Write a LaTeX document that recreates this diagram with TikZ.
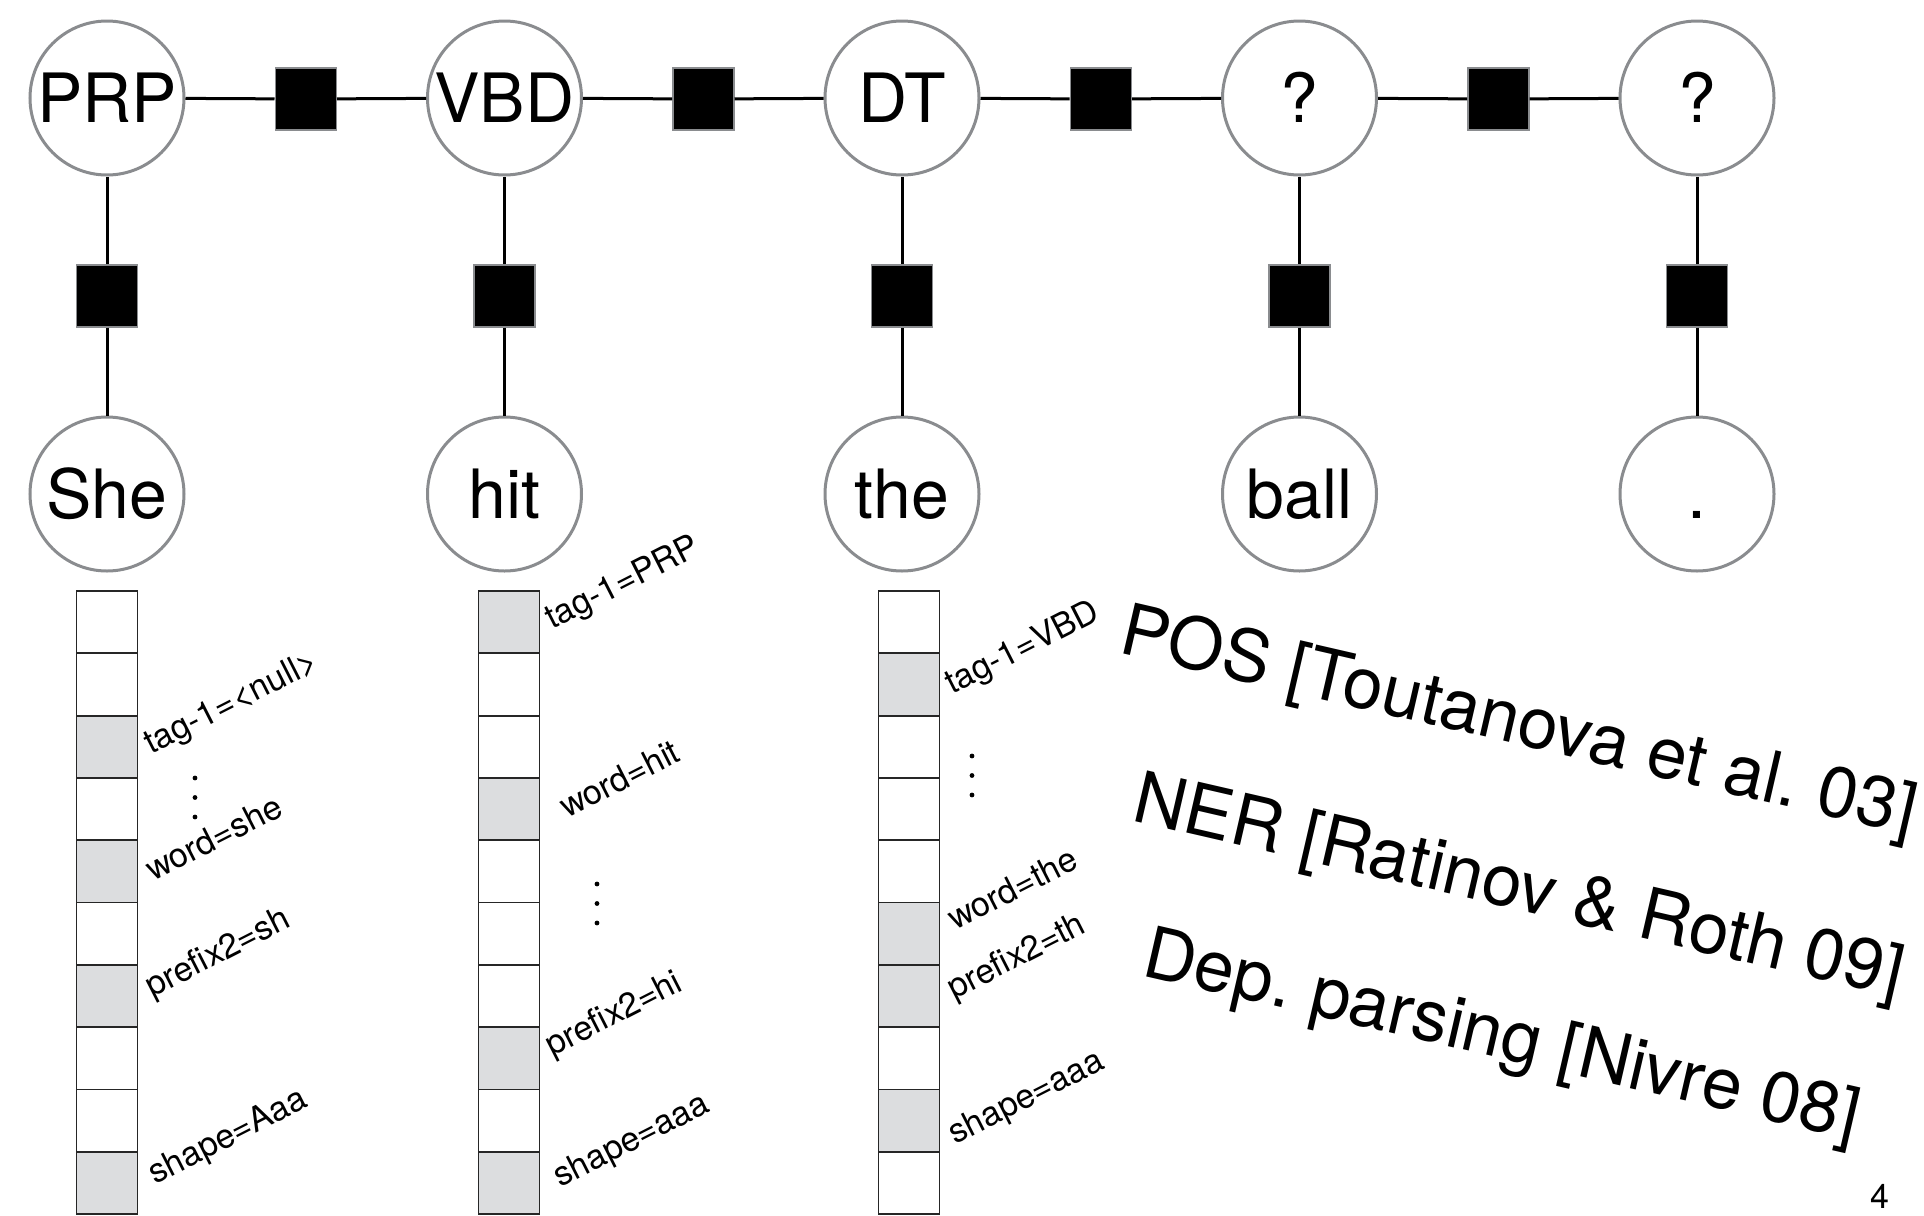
\documentclass[tikz,border=0pt]{standalone}
\usepackage{fontspec}
\setmainfont{TeX Gyre Heros}
\definecolor{cgray}{RGB}{138,140,143}
\definecolor{cellgray}{RGB}{220,221,223}
\begin{document}
\begin{tikzpicture}[x=0.5pt,y=-0.5pt,
  var/.style={circle, draw=cgray, line width=1.5pt, fill=white, minimum size=77pt, inner sep=0pt,
    font=\fontsize{34}{40}\selectfont, text height=24pt, text depth=0pt},
  fac/.style={rectangle, fill=black, draw=cgray, line width=0.75pt, minimum width=30.5pt, minimum height=31pt, inner sep=0pt},
  conn/.style={line width=1.5pt},
  cellbox/.style={draw=black!85, line width=0.9pt},
  feat/.style={font=\fontsize{17}{20}\selectfont, rotate=27, anchor=base west, inner sep=0pt},
  big/.style={font=\fontsize{35.8}{42}\selectfont, rotate=-13, anchor=base west, inner sep=0pt}]
\useasboundingbox (0,0) rectangle (1924,1216);

% variables (tags) and words
\foreach \n/\x/\t in {1/107/PRP, 2/504.5/VBD, 3/902/DT, 4/1299.5/?, 5/1697/?}
  \node[var] (t\n) at (\x,98) {\t};
\foreach \n/\x/\w in {1/107/She, 2/504.5/hit, 3/902/the, 4/1299.5/ball, 5/1697/.}
  \node[var] (w\n) at (\x,494) {\w};

% vertical factors
\foreach \n/\x in {1/107, 2/504.5, 3/902, 4/1299.5, 5/1697}{
  \node[fac] (u\n) at (\x,296) {};
  \draw[conn] (t\n) -- (u\n) -- (w\n);
}

% horizontal factors
\foreach \n/\m/\x in {1/2/305.75, 2/3/703.25, 3/4/1100.75, 4/5/1498.25}{
  \node[fac] (h\n) at (\x,99) {};
  \draw[conn] (t\n) -- (h\n) -- (t\m);
}

% feature columns
\foreach \cx/\i in {107/2,107/4,107/6,107/9, 509/0,509/3,509/7,509/9, 909/1,909/5,909/6,909/8}
  \fill[cellgray] (\cx-30.5,591+\i*62.3) rectangle ++(61,62.3);
\foreach \cx in {107,509,909}
  \foreach \i in {0,...,9}
    \draw[cellbox] (\cx-30.5,591+\i*62.3) rectangle ++(61,62.3);

% vertical ellipsis dots
\foreach \x/\y in {195/778, 597/884, 972/756}{
  \fill (\x,\y) circle[radius=1.2pt];
  \fill (\x,\y+19.5) circle[radius=1.2pt];
  \fill (\x,\y+39) circle[radius=1.2pt];
}

% feature labels
\node[feat] (l11) at (151,755) {tag-1=<null>};
\node[feat] (l12) at (153,882) {word=she};
\node[feat] (l13) at (152,998) {prefix2=sh};
\node[feat] (l14) at (155,1185) {shape=Aaa};

\node[feat] (l21) at (552,630) {tag-1=PRP};
\node[feat] (l22) at (567,819) {word=hit};
\node[feat] (l23) at (552,1057) {prefix2=hi};
\node[feat] (l24) at (560,1188) {shape=aaa};

\node[feat] (l31) at (952,695) {tag-1=VBD};
\node[feat] (l32) at (955,931) {word=the};
\node[feat] (l33) at (954,1000) {prefix2=th};
\node[feat] (l34) at (955,1145) {shape=aaa};

% citations
\node[big] (pos) at (1117,652) {POS [Toutanova et al.\ 03]};
\node[big] (ner) at (1130,820) {NER [Ratinov \& Roth 09]};
\node[big] (dep) at (1140,975) {Dep.\ parsing [Nivre 08]};

% page number
\node[font=\fontsize{17}{20}\selectfont, anchor=base, inner sep=0pt] (pg) at (1880,1208) {4};
\end{tikzpicture}
\end{document}
